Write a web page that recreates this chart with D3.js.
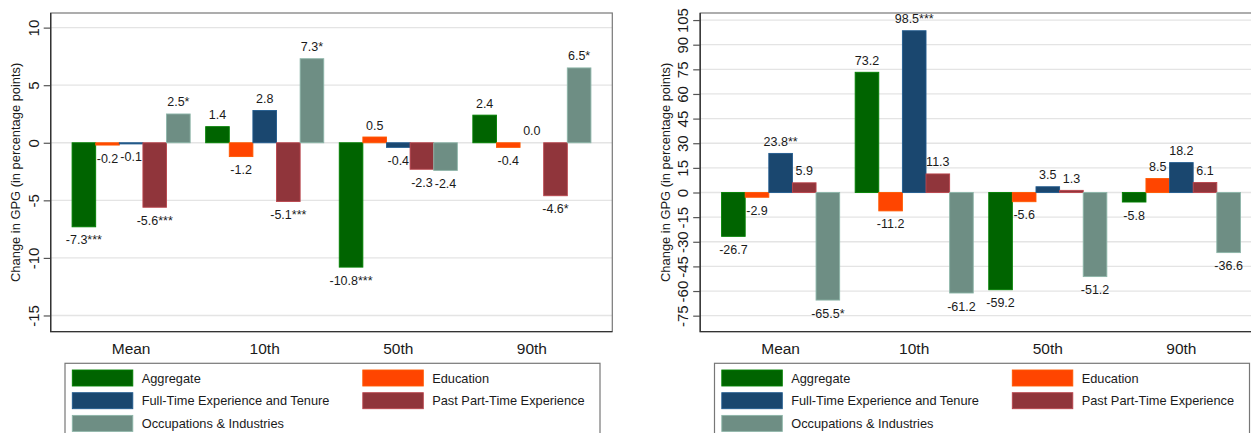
<!DOCTYPE html>
<html>
<head>
<meta charset="utf-8">
<script src="https://cdn.jsdelivr.net/npm/d3@7"></script>
<style>
  html, body { margin: 0; padding: 0; background: #fff; }
  svg { display: block; font-family: "Liberation Sans", Arial, sans-serif; }
</style>
</head>
<body>
<svg id="chart" width="1251" height="433"></svg>
<script>
// Categories and series
const categories = ["Mean", "10th", "50th", "90th"];
const seriesNames = [
  "Aggregate",
  "Education",
  "Full-Time Experience and Tenure",
  "Past Part-Time Experience",
  "Occupations & Industries"
];
const seriesColors = ["#006400", "#FF4500", "#1A476F", "#90353B", "#6E8E84"];

// Left panel: change in GPG (percentage points)
const aggregateA   = [-7.3, 1.4, -10.8, 2.4];
const educationA   = [-0.2, -1.2, 0.5, -0.4];
const fullTimeA    = [-0.1, 2.8, -0.4, 0.0];
const partTimeA    = [-5.6, -5.1, -2.3, -4.6];
const occupationsA = [2.5, 7.3, -2.4, 6.5];
const starsA = [
  ["***", "", "***", ""],
  ["", "", "", ""],
  ["", "", "", ""],
  ["***", "***", "", "*"],
  ["*", "*", "", "*"]
];
const ticksA = [-15, -10, -5, 0, 5, 10];
const domainA = [-16.4, 11.27];

// Right panel
const aggregateB   = [-26.7, 73.2, -59.2, -5.8];
const educationB   = [-2.9, -11.2, -5.6, 8.5];
const fullTimeB    = [23.8, 98.5, 3.5, 18.2];
const partTimeB    = [5.9, 11.3, 1.3, 6.1];
const occupationsB = [-65.5, -61.2, -51.2, -36.6];
const starsB = [
  ["", "", "", ""],
  ["", "", "", ""],
  ["**", "***", "", ""],
  ["", "", "", ""],
  ["*", "", "", ""]
];
const ticksB = [-75, -60, -45, -30, -15, 0, 15, 30, 45, 60, 75, 90, 105];
const domainB = [-84.7, 109.3];

// plain hyphen-minus for negative numbers
const locale = d3.formatLocale({
  decimal: ".", thousands: ",", grouping: [3], currency: ["", ""], minus: "-"
});
const fmtValue = locale.format(".1f");
const fmtTick = locale.format("d");

const svg = d3.select("#chart");

// Shared panel geometry
const plotL = 50.7, plotR = 612.3, plotT = 13, plotB = 331.6;

function drawPanel(offsetX, series, stars, ticks, domain) {
  const g = svg.append("g").attr("transform", `translate(${offsetX},0)`);

  const y = d3.scaleLinear().domain(domain).range([plotB, plotT]);
  const x = d3.scaleBand().domain(categories).range([plotL, plotR])
    .paddingInner(0.116).paddingOuter(0.16);
  const xs = d3.scaleBand().domain(d3.range(seriesNames.length))
    .range([0, x.bandwidth()]).padding(0);

  // gridlines
  g.append("g").selectAll("line").data(ticks).join("line")
    .attr("x1", plotL).attr("x2", plotR)
    .attr("y1", d => y(d)).attr("y2", d => y(d))
    .attr("stroke", "#e4e4e4").attr("stroke-width", 1.3);

  // y axis with rotated tick labels
  const yAxis = d3.axisLeft(y).tickValues(ticks).tickSize(7).tickPadding(0)
    .tickFormat(fmtTick);
  const ya = g.append("g").attr("transform", `translate(${plotL},0)`).call(yAxis);
  ya.select(".domain").remove();
  ya.selectAll(".tick line").attr("stroke", "#555").attr("stroke-width", 1.2);
  ya.selectAll(".tick text")
    .attr("x", null).attr("dy", null)
    .attr("transform", "translate(-12,0) rotate(-90)")
    .attr("text-anchor", "middle")
    .attr("font-size", 15).attr("fill", "#1a1a1a");

  // bars
  const rows = [];
  series.forEach((vals, si) => {
    vals.forEach((v, ci) => rows.push({ si, ci, v, star: stars[si][ci] }));
  });
  const bx = d => x(categories[d.ci]) + xs(d.si);
  g.append("g").selectAll("rect").data(rows).join("rect")
    .attr("x", bx)
    .attr("width", xs.bandwidth())
    .attr("y", d => y(Math.max(0, d.v)))
    .attr("height", d => Math.abs(y(d.v) - y(0)))
    .attr("fill", d => seriesColors[d.si])
    .attr("stroke", d => d3.color(seriesColors[d.si]).brighter(0.7))
    .attr("stroke-width", 0.9);

  // value labels
  g.append("g").selectAll("text").data(rows).join("text")
    .attr("x", d => bx(d) + xs.bandwidth() / 2)
    .attr("y", d => d.v >= 0 ? y(d.v) - 7.5 : y(d.v) + 17.5)
    .attr("text-anchor", "middle")
    .attr("font-size", 12.5).attr("fill", "#1a1a1a")
    .text(d => fmtValue(d.v) + d.star);

  // plot frame
  g.append("rect")
    .attr("x", plotL).attr("y", plotT)
    .attr("width", plotR - plotL).attr("height", plotB - plotT)
    .attr("fill", "none").attr("stroke", "#777").attr("stroke-width", 1.2);
  g.append("path")
    .attr("d", `M${plotL},${plotT}V${plotB}H${plotR}`)
    .attr("fill", "none").attr("stroke", "#333").attr("stroke-width", 1.4);

  // category labels
  g.append("g").selectAll("text").data(categories).join("text")
    .attr("x", d => x(d) + x.bandwidth() / 2)
    .attr("y", 353.5)
    .attr("text-anchor", "middle")
    .attr("font-size", 15.5).attr("fill", "#1a1a1a")
    .text(d => d);

  // y title
  g.append("text")
    .attr("transform", `translate(20.3,${(plotT + plotB) / 2}) rotate(-90)`)
    .attr("text-anchor", "middle")
    .attr("font-size", 12.9).attr("fill", "#1a1a1a")
    .text("Change in GPG (in percentage points)");

  // legend
  const lg = g.append("g");
  lg.append("rect")
    .attr("x", 65).attr("y", 363.3).attr("width", 535).attr("height", 80)
    .attr("fill", "#fff").attr("stroke", "#777").attr("stroke-width", 1.2);
  const legendPos = seriesNames.map((name, i) => ({
    name, i,
    col: i % 2,
    row: Math.floor(i / 2)
  }));
  const colX = [72.3, 362.8];
  const item = lg.selectAll("g.item").data(legendPos).join("g").attr("class", "item")
    .attr("transform", d => `translate(${colX[d.col]},${370 + d.row * 22.7})`);
  item.append("rect")
    .attr("width", 60.5).attr("height", 16)
    .attr("fill", d => seriesColors[d.i])
    .attr("stroke", d => d3.color(seriesColors[d.i]).brighter(0.7))
    .attr("stroke-width", 0.9);
  item.append("text")
    .attr("x", 69.4).attr("y", 12.8)
    .attr("font-size", 12.8).attr("fill", "#1a1a1a")
    .text(d => d.name);
}

drawPanel(0, [aggregateA, educationA, fullTimeA, partTimeA, occupationsA], starsA, ticksA, domainA);
drawPanel(649.5, [aggregateB, educationB, fullTimeB, partTimeB, occupationsB], starsB, ticksB, domainB);
</script>
</body>
</html>
